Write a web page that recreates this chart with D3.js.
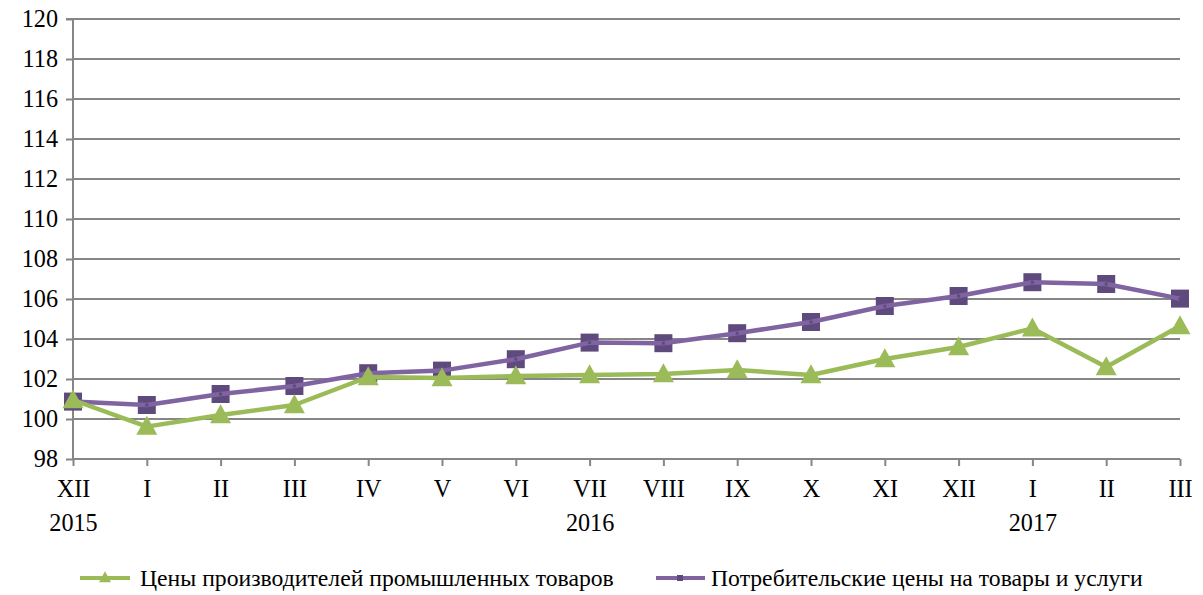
<!DOCTYPE html>
<html><head><meta charset="utf-8">
<script src="https://cdn.jsdelivr.net/npm/d3@7"></script>
<style>body{margin:0;background:#fff}svg{display:block}</style>
</head><body><svg id="c" width="1203" height="595"></svg>
<script>
const months = ["XII","I","II","III","IV","V","VI","VII","VIII","IX","X","XI","XII","I","II","III"];
const years = ["2015","","","","","","","2016","","","","","","2017","",""];
const ppi = [100.95,99.62,100.2,100.7,102.1,102.05,102.15,102.2,102.25,102.45,102.2,103.0,103.6,104.53,102.6,104.65];
const cpi = [100.87,100.7,101.25,101.65,102.29,102.42,102.99,103.82,103.79,104.29,104.85,105.65,106.15,106.84,106.75,106.02];
const yTicks = [98,100,102,104,106,108,110,112,114,116,118,120];
const seriesNames = ["Цены производителей промышленных товаров","Потребительские цены на товары и услуги"];

(function(){
const svg = d3.select("#c");
const pL = 73, pR = 1180, pT = 19, pB = 459;
const FS = 24.2, LFS = 23.7, FF = '"Liberation Serif"';
const idx = d3.range(months.length);
const x = d3.scalePoint().domain(idx).range([pL, pR]);
const y = d3.scaleLinear().domain([98,120]).range([pB, pT]);
const grey = "#868686";

svg.append("g").selectAll("line").data(yTicks.filter(t=>t!==98)).join("line")
  .attr("x1", pL).attr("x2", pR).attr("y1", d=>y(d)).attr("y2", d=>y(d))
  .attr("stroke", grey).attr("stroke-width", 2);

const ya = svg.append("g").attr("transform", `translate(${pL},0)`)
  .call(d3.axisLeft(y).tickValues(yTicks).tickSize(7).tickPadding(8).tickFormat(d3.format("d")));
ya.select(".domain").attr("stroke", grey).attr("stroke-width", 2).attr("d", `M-7,${pT}H0V${pB}`);
ya.selectAll(".tick line").attr("stroke", grey).attr("stroke-width", 2);
ya.selectAll(".tick text").style("font-family", FF).style("font-size", FS+"px").attr("fill","#000");

const xa = svg.append("g").attr("transform", `translate(0,${pB})`)
  .call(d3.axisBottom(x).tickSize(7).tickPadding(14).tickFormat(i=>months[i]));
xa.select(".domain").attr("stroke", grey).attr("stroke-width", 2).attr("d", `M${pL},0H${pR}`);
xa.selectAll(".tick line").attr("stroke", grey).attr("stroke-width", 2);
xa.selectAll(".tick text").style("font-family", FF).style("font-size", FS+"px").attr("fill","#000");
xa.selectAll(".tick").append("text").text(i=>years[i]).attr("y", 72)
  .style("font-family", FF).style("font-size", FS+"px")
  .attr("fill","#000").attr("text-anchor","middle");

const line = d3.line().x((d,i)=>x(i)).y(d=>y(d));
const triPath = (w,h) => `M0,${-h*0.62}L${w/2},${h*0.38}L${-w/2},${h*0.38}Z`;

const g2 = svg.append("g");
g2.selectAll("rect.sq").data(cpi).join("rect").attr("class","sq")
  .attr("x",(d,i)=>x(i)-9).attr("y",d=>y(d)-9).attr("width",18).attr("height",18).attr("fill","#5F4A7E");
g2.append("path").datum(cpi).attr("d", line).attr("fill","none").attr("stroke","#8064A2").attr("stroke-width",4.5).attr("stroke-linejoin","round");
g2.selectAll("rect.dot").data(cpi).join("rect").attr("class","dot")
  .attr("x",(d,i)=>x(i)-1.5).attr("y",d=>y(d)-1.5).attr("width",3).attr("height",3).attr("fill","#5F4A7E");

const g1 = svg.append("g");
g1.append("path").datum(ppi).attr("d", line).attr("fill","none").attr("stroke","#9BBB59").attr("stroke-width",4.5).attr("stroke-linejoin","round");
g1.selectAll("path.m").data(ppi).join("path").attr("class","m")
  .attr("transform",(d,i)=>`translate(${x(i)},${y(d)+1})`).attr("d", triPath(21,19)).attr("fill","#9BBB59");

const lg = svg.append("g");
const ly = 578;
lg.append("line").attr("x1",80).attr("x2",130).attr("y1",ly).attr("y2",ly).attr("stroke","#9BBB59").attr("stroke-width",4);
lg.append("path").attr("transform",`translate(105,${ly})`).attr("d", triPath(12,11)).attr("fill","#9BBB59");
lg.append("text").attr("x",140).attr("y",ly+8).style("font-family", FF).style("font-size", LFS+"px").text(seriesNames[0]);
lg.append("line").attr("x1",656).attr("x2",705).attr("y1",ly).attr("y2",ly).attr("stroke","#8064A2").attr("stroke-width",4);
lg.append("rect").attr("x",677).attr("y",ly-3).attr("width",6).attr("height",6).attr("fill","#5F4A7E");
lg.append("text").attr("x",711).attr("y",ly+8).style("font-family", FF).style("font-size", LFS+"px").text(seriesNames[1]);
})();
</script></body></html>
